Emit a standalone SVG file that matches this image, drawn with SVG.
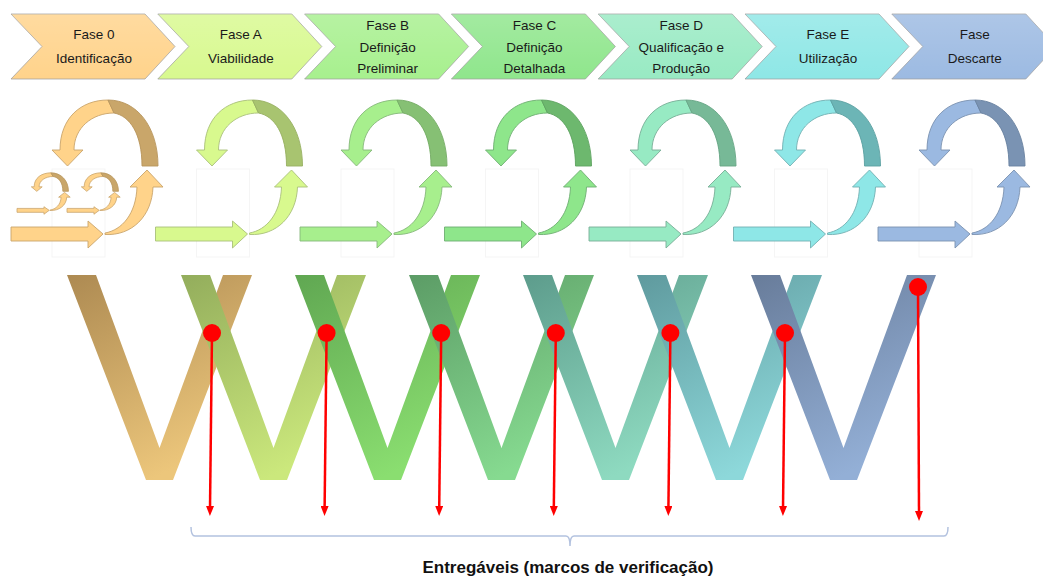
<svg xmlns="http://www.w3.org/2000/svg" xmlns:xlink="http://www.w3.org/1999/xlink" width="1043" height="577" viewBox="0 0 1043 577">
<style>
.lbl{font-family:"Liberation Sans",Arial,sans-serif;font-size:13.5px;fill:#1a1a1a;text-anchor:middle}
.title{font-family:"Liberation Sans",Arial,sans-serif;font-size:17px;font-weight:bold;fill:#111;text-anchor:middle}
.chev{stroke:#9c9c9c;stroke-width:0.9;stroke-opacity:0.8}
.box{fill:none;stroke:#f5f5f5;stroke-width:1}
.red{stroke:#ff0000;stroke-width:2.5;fill:none}
.dot{fill:#ff0000}
.brace{fill:none;stroke:#b3c2df;stroke-width:1.5}
</style>
<defs>
<path id="chevShape" d="M0,14 H134 L164,46.5 L134,79 H0 L31,46.5 Z"/>
<linearGradient id="sheen" x1="0" y1="0" x2="0" y2="1">
<stop offset="0" stop-color="#ffffff" stop-opacity="0.18"/>
<stop offset="1" stop-color="#ffffff" stop-opacity="0"/>
</linearGradient>
<g id="loopL">
<path d="M11,227 H88 V221 L103,234 L88,248 V241 H11 Z"/>
<path d="M105,233 C122,230 136,214 137,187 L130,187 L147,170 L163,187 L153,187 C152,216 132,236 105,234.5 Z"/>
<path d="M52,150 L60,150 C60,118 81,100 108,100 L114,113 C92,113 74,128 74,150 L83,150 L67.5,166 Z"/>
</g>
<path id="loopD" d="M108,100 C137,100 158,127 158,166 L142,166 C142,134 130,116 114,113 Z"/>
<path id="vShape" d="M-92.5,275 H-63.5 L0,448 L63.5,275 H92.5 L13.5,480 H-13.5 Z"/>
<linearGradient id="v0" x1="0" y1="0" x2="0.45" y2="1"><stop offset="0" stop-color="#ad8a52"/><stop offset="1" stop-color="#ecc67b"/></linearGradient>
<linearGradient id="v1" x1="0" y1="0" x2="0.45" y2="1"><stop offset="0" stop-color="#93ad5c"/><stop offset="1" stop-color="#cbe87c"/></linearGradient>
<linearGradient id="v2" x1="0" y1="0" x2="0.45" y2="1"><stop offset="0" stop-color="#60a752"/><stop offset="1" stop-color="#8ade70"/></linearGradient>
<linearGradient id="v3" x1="0" y1="0" x2="0.45" y2="1"><stop offset="0" stop-color="#5c9c66"/><stop offset="1" stop-color="#86da90"/></linearGradient>
<linearGradient id="v4" x1="0" y1="0" x2="0.45" y2="1"><stop offset="0" stop-color="#5d9c8c"/><stop offset="1" stop-color="#8edac0"/></linearGradient>
<linearGradient id="v5" x1="0" y1="0" x2="0.45" y2="1"><stop offset="0" stop-color="#5f9a9e"/><stop offset="1" stop-color="#8dd8da"/></linearGradient>
<linearGradient id="v6" x1="0" y1="0" x2="0.45" y2="1"><stop offset="0" stop-color="#687c9a"/><stop offset="1" stop-color="#93afd6"/></linearGradient>
<marker id="ah" viewBox="0 0 10 8" refX="2" refY="4" markerWidth="10" markerHeight="8" markerUnits="userSpaceOnUse" orient="auto">
<path d="M0,0 L10,4 L0,8 Z" fill="#ff0000"/>
</marker>
</defs>

<!-- Phase chevrons -->
<g id="fase0">
<use href="#chevShape" x="11" class="chev" fill="#ffd38b"/>
<use href="#chevShape" x="11" fill="url(#sheen)"/>
<text class="lbl" x="94" y="39">Fase 0</text>
<text class="lbl" x="94" y="63">Identificação</text>
</g>
<g id="faseA">
<use href="#chevShape" x="157.8" class="chev" fill="#d8f98f"/>
<use href="#chevShape" x="157.8" fill="url(#sheen)"/>
<text class="lbl" x="240.8" y="39">Fase A</text>
<text class="lbl" x="240.8" y="63">Viabilidade</text>
</g>
<g id="faseB">
<use href="#chevShape" x="304.6" class="chev" fill="#a7f08e"/>
<use href="#chevShape" x="304.6" fill="url(#sheen)"/>
<text class="lbl" x="387.6" y="30">Fase B</text>
<text class="lbl" x="387.6" y="52">Definição</text>
<text class="lbl" x="387.6" y="73">Preliminar</text>
</g>
<g id="faseC">
<use href="#chevShape" x="451.4" class="chev" fill="#8fe68c"/>
<use href="#chevShape" x="451.4" fill="url(#sheen)"/>
<text class="lbl" x="534.4" y="30">Fase C</text>
<text class="lbl" x="534.4" y="52">Definição</text>
<text class="lbl" x="534.4" y="73">Detalhada</text>
</g>
<g id="faseD">
<use href="#chevShape" x="598.2" class="chev" fill="#98eac3"/>
<use href="#chevShape" x="598.2" fill="url(#sheen)"/>
<text class="lbl" x="681.2" y="30">Fase D</text>
<text class="lbl" x="681.2" y="52">Qualificação e</text>
<text class="lbl" x="681.2" y="73">Produção</text>
</g>
<g id="faseE">
<use href="#chevShape" x="745" class="chev" fill="#8ee7e6"/>
<use href="#chevShape" x="745" fill="url(#sheen)"/>
<text class="lbl" x="828" y="39">Fase E</text>
<text class="lbl" x="828" y="63">Utilização</text>
</g>
<g id="faseDescarte">
<use href="#chevShape" x="891.8" class="chev" fill="#9cbae2"/>
<use href="#chevShape" x="891.8" fill="url(#sheen)"/>
<text class="lbl" x="974.8" y="39">Fase</text>
<text class="lbl" x="974.8" y="63">Descarte</text>
</g>

<!-- Iteration loops -->
<g id="loop0">
<rect class="box" x="52" y="169" width="53" height="88"/>
<use href="#loopL" fill="#ffd38a" stroke="#c9a56c" stroke-width="0.9"/>
<use href="#loopD" fill="#c9a66a" stroke="#b8955c" stroke-width="0.9"/>
<use href="#loopL" transform="translate(13.15,144.84) scale(0.35,0.28)" fill="#ffd38a" stroke="#c9a56c" stroke-width="2.5"/>
<use href="#loopD" transform="translate(13.15,144.84) scale(0.35,0.28)" fill="#c9a66a" stroke="#b8955c" stroke-width="2.5"/>
<use href="#loopL" transform="translate(63.15,144.84) scale(0.35,0.28)" fill="#ffd38a" stroke="#c9a56c" stroke-width="2.5"/>
<use href="#loopD" transform="translate(63.15,144.84) scale(0.35,0.28)" fill="#c9a66a" stroke="#b8955c" stroke-width="2.5"/>
</g>
<g id="loopA" transform="translate(144.5,0)">
<rect class="box" x="52" y="169" width="53" height="88"/>
<use href="#loopL" fill="#d8f98e" stroke="#a9c07a" stroke-width="0.9"/>
<use href="#loopD" fill="#a8c470" stroke="#97b062" stroke-width="0.9"/>
</g>
<g id="loopB" transform="translate(289,0)">
<rect class="box" x="52" y="169" width="53" height="88"/>
<use href="#loopL" fill="#a7ef8d" stroke="#86b87a" stroke-width="0.9"/>
<use href="#loopD" fill="#86c074" stroke="#74ab64" stroke-width="0.9"/>
</g>
<g id="loopC" transform="translate(433.5,0)">
<rect class="box" x="52" y="169" width="53" height="88"/>
<use href="#loopL" fill="#8ee68b" stroke="#6eae72" stroke-width="0.9"/>
<use href="#loopD" fill="#6db86e" stroke="#5ea360" stroke-width="0.9"/>
</g>
<g id="loopD_" transform="translate(578,0)">
<rect class="box" x="52" y="169" width="53" height="88"/>
<use href="#loopL" fill="#97eac3" stroke="#78ae96" stroke-width="0.9"/>
<use href="#loopD" fill="#77b997" stroke="#66a585" stroke-width="0.9"/>
</g>
<g id="loopE" transform="translate(722.5,0)">
<rect class="box" x="52" y="169" width="53" height="88"/>
<use href="#loopL" fill="#8ee7e7" stroke="#73b0b2" stroke-width="0.9"/>
<use href="#loopD" fill="#6cb5b6" stroke="#5ba0a2" stroke-width="0.9"/>
</g>
<g id="loopF" transform="translate(867,0)">
<rect class="box" x="52" y="169" width="53" height="88"/>
<use href="#loopL" fill="#9bb9e1" stroke="#7c92b0" stroke-width="0.9"/>
<use href="#loopD" fill="#7a93b3" stroke="#6a82a0" stroke-width="0.9"/>
</g>

<!-- V letters -->
<g id="v-shapes">
<use href="#vShape" transform="translate(159.5,0)" fill="url(#v0)"/>
<use href="#vShape" transform="translate(273.5,0)" fill="url(#v1)"/>
<use href="#vShape" transform="translate(387.5,0)" fill="url(#v2)"/>
<use href="#vShape" transform="translate(501.5,0)" fill="url(#v3)"/>
<use href="#vShape" transform="translate(615.5,0)" fill="url(#v4)"/>
<use href="#vShape" transform="translate(729.5,0)" fill="url(#v5)"/>
<use href="#vShape" transform="translate(843.5,0)" fill="url(#v6)"/>
</g>

<!-- Connectors: milestone arrows -->
<g id="connectors">
<line class="red" x1="212" y1="333" x2="210" y2="508" marker-end="url(#ah)"/>
<line class="red" x1="326.6" y1="333" x2="324.6" y2="508" marker-end="url(#ah)"/>
<line class="red" x1="441.2" y1="333" x2="439.2" y2="508" marker-end="url(#ah)"/>
<line class="red" x1="555.8" y1="333" x2="553.8" y2="508" marker-end="url(#ah)"/>
<line class="red" x1="670.4" y1="333" x2="668.4" y2="508" marker-end="url(#ah)"/>
<line class="red" x1="785" y1="333" x2="783" y2="508" marker-end="url(#ah)"/>
<line class="red" x1="918" y1="287" x2="919" y2="513" marker-end="url(#ah)"/>
</g>

<g id="milestones">
<circle class="dot" cx="212" cy="333" r="9"/>
<circle class="dot" cx="326.6" cy="333" r="9"/>
<circle class="dot" cx="441.2" cy="333" r="9"/>
<circle class="dot" cx="555.8" cy="333" r="9"/>
<circle class="dot" cx="670.4" cy="333" r="9"/>
<circle class="dot" cx="785" cy="333" r="9"/>
<circle class="dot" cx="918" cy="287" r="9"/>
</g>

<g id="brace">
<path class="brace" d="M191,527 Q191,536 195,536 L566,536 Q570,536 570,546 Q570,536 574,536 L944,536 Q948,536 948,527"/>
<text class="title" x="568" y="573">Entregáveis (marcos de verificação)</text>
</g>
</svg>
